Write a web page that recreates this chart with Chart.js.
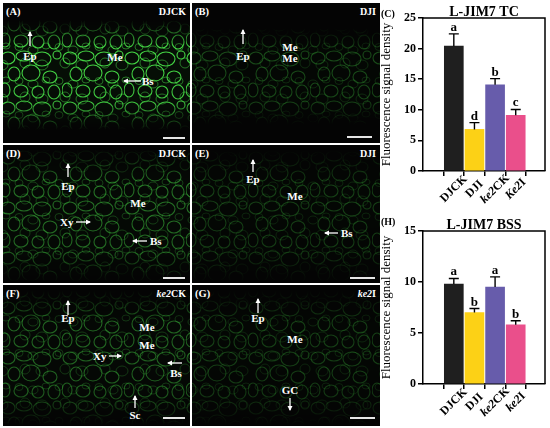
<!DOCTYPE html>
<html><head><meta charset="utf-8">
<script src="https://cdn.jsdelivr.net/npm/chart.js@4"></script>
<style>
html,body{margin:0;padding:0;background:#fff;width:550px;height:428px;overflow:hidden}
#c1wrap{position:absolute;left:370px;top:0;width:180px;height:214px}
#c2wrap{position:absolute;left:370px;top:214px;width:180px;height:214px}
#micro{position:absolute;left:0;top:0}
#micro text{font-family:'Liberation Serif','DejaVu Serif',serif;font-weight:bold;fill:#fff}
</style></head><body>
<svg id="micro" width="382" height="428" xmlns="http://www.w3.org/2000/svg">
<defs>
 <pattern id="cells" patternUnits="userSpaceOnUse" width="62" height="50">
  <g fill="none" stroke="#44d844" stroke-width="1.1">
   <ellipse cx="8" cy="8" rx="7" ry="6"/><ellipse cx="24" cy="6" rx="8" ry="5"/>
   <ellipse cx="42" cy="9" rx="9" ry="7"/><ellipse cx="57" cy="5" rx="4" ry="4"/>
   <ellipse cx="14" cy="24" rx="6" ry="7"/><ellipse cx="31" cy="23" rx="9" ry="8"/>
   <ellipse cx="50" cy="27" rx="7" ry="6"/><ellipse cx="5" cy="40" rx="5" ry="7"/>
   <ellipse cx="21" cy="41" rx="7" ry="6"/><ellipse cx="38" cy="42" rx="6" ry="6"/>
   <ellipse cx="54" cy="42" rx="6" ry="7"/>
  </g>
 </pattern>
 <pattern id="cells2" patternUnits="userSpaceOnUse" width="40" height="34" x="13" y="7">
  <g fill="none" stroke="#44d844" stroke-width="0.9">
   <ellipse cx="6" cy="6" rx="4" ry="3.5"/><ellipse cx="20" cy="9" rx="5" ry="4"/>
   <ellipse cx="33" cy="5" rx="4" ry="3"/><ellipse cx="12" cy="22" rx="5" ry="5"/>
   <ellipse cx="29" cy="24" rx="6" ry="5"/>
  </g>
 </pattern>
 <linearGradient id="fade" x1="0" y1="0" x2="0" y2="1">
  <stop offset="0" stop-color="#fff" stop-opacity="0"/>
  <stop offset="0.25" stop-color="#fff" stop-opacity="1"/>
  <stop offset="0.75" stop-color="#fff" stop-opacity="0.9"/>
  <stop offset="1" stop-color="#fff" stop-opacity="0"/>
 </linearGradient>
 <marker id="ah" viewBox="0 0 10 10" refX="8" refY="5" markerWidth="4" markerHeight="4" orient="auto-start-reverse">
  <path d="M0,0 L10,5 L0,10 z" fill="#fff"/>
 </marker>
</defs>
<g id="panels"></g>
</svg>
<div id="c1wrap"><canvas id="c1"></canvas></div>
<div id="c2wrap"><canvas id="c2"></canvas></div>
<script>
// ---------- data ----------
const categoriesTC = ['DJCK', 'DJI', 'ke2CK', 'Ke2I'];
const valuesTC = [20.4, 6.8, 14.1, 9.1];
const errorsTC = [2.0, 1.1, 1.0, 0.95];
const lettersTC = ['a', 'd', 'b', 'c'];
const yTicksTC = [0, 5, 10, 15, 20, 25];

const categoriesBSS = ['DJCK', 'DJI', 'ke2CK', 'ke2I'];
const valuesBSS = [9.8, 7.0, 9.5, 5.8];
const errorsBSS = [0.55, 0.4, 1.0, 0.4];
const lettersBSS = ['a', 'b', 'a', 'b'];
const yTicksBSS = [0, 5, 10, 15];

const barColors = ['#1f1f1f', '#fcd116', '#675cab', '#ea4f8b'];

// ---------- microscopy panels (layout) ----------
const SERIF = "'Liberation Serif','DejaVu Serif',serif";
const panels = [
 {x:3,y:3,w:187,h:140,band:[20,130],op:1.0,label:'(A)',name:[['DJCK',0]],
  items:[['up',30,46,32],['t','Ep',30,60,'middle'],['t','Me',115,61,'middle'],['left',141,124,81],['t','Bs',142,85,'start'],['bar',163,185,138]]},
 {x:192,y:3,w:188,h:140,band:[28,125],op:0.32,label:'(B)',name:[['DJI',0]],
  items:[['up',243,44,30],['t','Ep',243,60,'middle'],['t','Me',290,51,'middle'],['t','Me',290,62,'middle'],['bar',347,372,137]]},
 {x:3,y:145,w:187,h:138,band:[148,282],op:0.5,label:'(D)',name:[['DJCK',0]],
  items:[['up',68,177,164],['t','Ep',68,190,'middle'],['t','Me',138,207,'middle'],['t','Xy',60,226,'start'],['right',76,90,222],['left',147,133,241],['t','Bs',150,245,'start'],['bar',163,185,278]]},
 {x:192,y:145,w:188,h:138,band:[150,282],op:0.27,label:'(E)',name:[['DJI',0]],
  items:[['up',253,172,160],['t','Ep',253,183,'middle'],['t','Me',295,200,'middle'],['left',338,325,233],['t','Bs',341,237,'start'],['bar',350,375,278]]},
 {x:3,y:285,w:187,h:141,band:[290,426],op:0.45,label:'(F)',name:[['ke2',1],['CK',0]],
  items:[['up',68,315,301],['t','Ep',68,322,'middle'],['t','Me',147,331,'middle'],['t','Me',147,349,'middle'],['t','Xy',93,360,'start'],['right',109,121,356],['left',182,168,363],['t','Bs',176,377,'middle'],['up',135,408,396],['t','Sc',135,419,'middle'],['bar',163,185,418]]},
 {x:192,y:285,w:188,h:141,band:[290,426],op:0.27,label:'(G)',name:[['ke2',1],['I',0]],
  items:[['up',258,313,299],['t','Ep',258,322,'middle'],['t','Me',295,343,'middle'],['t','GC',290,394,'middle'],['down',290,398,410],['bar',350,375,418]]}
];
(function buildPanels(){
  const g = document.getElementById('panels');
  const defs = document.querySelector('#micro defs');
  let html = '', dh = '';
  panels.forEach((p, k) => {
    dh += `<mask id="m${k}"><rect x="${p.x}" y="${p.band[0]}" width="${p.w}" height="${p.band[1]-p.band[0]}" fill="url(#fade)"/></mask>`;
    html += `<rect x="${p.x}" y="${p.y}" width="${p.w}" height="${p.h}" fill="#040404"/>`;
    html += `<rect x="${p.x}" y="${p.y}" width="${p.w}" height="${p.h}" fill="#1f6b1f" opacity="${p.op*0.1}" mask="url(#m${k})"/>`;
    html += `<rect x="${p.x}" y="${p.y}" width="${p.w}" height="${p.h}" fill="url(#cells)" opacity="${p.op}" mask="url(#m${k})"/>`;
    html += `<rect x="${p.x}" y="${p.y}" width="${p.w}" height="${p.h}" fill="url(#cells2)" opacity="${p.op*0.6}" mask="url(#m${k})"/>`;
    html += `<text x="${p.x+3}" y="${p.y+12}" font-size="10.5">${p.label}</text>`;
    html += `<text x="${p.x+p.w-4}" y="${p.y+12}" font-size="10" text-anchor="end">` +
      p.name.map(r => `<tspan font-style="${r[1]?'italic':'normal'}">${r[0]}</tspan>`).join('') + `</text>`;
    p.items.forEach(it => {
      const ln = (x1,y1,x2,y2) => `<line x1="${x1}" y1="${y1}" x2="${x2}" y2="${y2}" stroke="#fff" stroke-width="1.3" marker-end="url(#ah)"/>`;
      if (it[0]==='t') html += `<text x="${it[2]}" y="${it[3]}" font-size="11" text-anchor="${it[4]}">${it[1]}</text>`;
      else if (it[0]==='up' || it[0]==='down') html += ln(it[1],it[2],it[1],it[3]);
      else if (it[0]==='left' || it[0]==='right') html += ln(it[1],it[3],it[2],it[3]);
      else if (it[0]==='bar') html += `<line x1="${it[1]}" y1="${it[3]}" x2="${it[2]}" y2="${it[3]}" stroke="#fff" stroke-width="1.8"/>`;
    });
  });
  defs.insertAdjacentHTML('beforeend', dh);
  g.innerHTML = html;
})();

// ---------- charts ----------
function labelRuns(name){
  const m = name.match(/^([kK]e2)(.*)$/);
  return m ? [[m[1], true], [m[2], false]] : [[name, false]];
}

const extrasPlugin = {
  id: 'extras',
  afterDatasetsDraw(chart, args, opts) {
    const {ctx, chartArea: ca, scales: {x, y}} = chart;
    ctx.save();
    ctx.strokeStyle = '#000'; ctx.lineWidth = 1.5;
    ctx.beginPath();
    ctx.moveTo(ca.left, ca.top); ctx.lineTo(ca.right, ca.top); ctx.lineTo(ca.right, ca.bottom);
    ctx.stroke();
    opts.values.forEach((v, i) => {
      const px = x.getPixelForValue(i);
      const y0 = y.getPixelForValue(v);
      const y1 = y.getPixelForValue(v + opts.errors[i]);
      ctx.lineWidth = 1.4;
      ctx.beginPath();
      ctx.moveTo(px, y0); ctx.lineTo(px, y1);
      ctx.moveTo(px - 5, y1); ctx.lineTo(px + 5, y1);
      ctx.stroke();
      ctx.fillStyle = '#000';
      ctx.font = `bold 13px ${SERIF}`;
      ctx.textAlign = 'center'; ctx.textBaseline = 'alphabetic';
      ctx.fillText(opts.letters[i], px, y1 - 3);
    });
    opts.categories.forEach((c, i) => {
      const px = x.getPixelForValue(i);
      const runs = labelRuns(c);
      const fontOf = it => `${it ? 'italic ' : ''}bold 12px ${SERIF}`;
      let total = 0;
      runs.forEach(r => { ctx.font = fontOf(r[1]); total += ctx.measureText(r[0]).width; });
      ctx.save();
      ctx.translate(px, ca.bottom + 18);
      ctx.rotate(-Math.PI / 4);
      ctx.textAlign = 'left'; ctx.textBaseline = 'middle'; ctx.fillStyle = '#000';
      let cx = -total / 2;
      runs.forEach(r => { ctx.font = fontOf(r[1]); ctx.fillText(r[0], cx, 0); cx += ctx.measureText(r[0]).width; });
      ctx.restore();
    });
    ctx.font = `bold 10px ${SERIF}`;
    ctx.textAlign = 'left'; ctx.textBaseline = 'middle'; ctx.fillStyle = '#000';
    ctx.fillText(opts.panel, 11, opts.panelY);
    ctx.restore();
  }
};

function makeChart(id, cats, vals, errs, letters, yTicks, title, panel, panelY, titlePadTop, xHeight) {
  const yMax = yTicks[yTicks.length - 1];
  return new Chart(document.getElementById(id), {
    type: 'bar',
    data: {
      datasets: [{
        data: cats.map((c, i) => ({x: i, y: vals[i]})),
        backgroundColor: barColors,
        borderWidth: 0,
        barThickness: 19
      }]
    },
    options: {
      responsive: true, maintainAspectRatio: false, animation: false,
      layout: {padding: {left: 0, right: 5, top: 0, bottom: 0}},
      plugins: {
        legend: {display: false}, tooltip: {enabled: false},
        title: {display: true, text: title, fullSize: false, color: '#000',
          font: {family: SERIF, size: 14, weight: 'bold', lineHeight: '12px'},
          padding: {top: titlePadTop, bottom: 0}},
        extras: {values: vals, errors: errs, letters: letters, categories: cats, panel: panel, panelY: panelY}
      },
      scales: {
        x: {
          type: 'linear', min: -0.7545, max: 3.68,
          afterBuildTicks: s => { s.ticks = cats.map((c, i) => ({value: i})); },
          afterFit: s => { s.height = xHeight; },
          grid: {display: true, drawOnChartArea: false, drawTicks: true, tickLength: 5, color: '#000', lineWidth: 1.5},
          border: {display: true, color: '#000', width: 1.5},
          ticks: {display: false}
        },
        y: {
          min: 0, max: yMax,
          afterBuildTicks: s => { s.ticks = yTicks.map(v => ({value: v})); },
          afterFit: s => { s.width = 53; },
          grid: {display: true, drawOnChartArea: false, drawTicks: true, tickLength: 5, color: '#000', lineWidth: 1.5},
          border: {display: true, color: '#000', width: 1.5},
          ticks: {color: '#000', padding: 2, font: {family: SERIF, size: 12, weight: 'bold'}},
          title: {display: true, text: 'Fluorescence signal density', color: '#000',
            font: {family: SERIF, size: 13, weight: 'normal'}, padding: {top: 9, bottom: 0}}
        }
      }
    },
    plugins: [extrasPlugin]
  });
}

makeChart('c1', categoriesTC, valuesTC, errorsTC, lettersTC, yTicksTC, 'L-JIM7 TC', '(C)', 14, 6, 43);
makeChart('c2', categoriesBSS, valuesBSS, errorsBSS, lettersBSS, yTicksBSS, 'L-JIM7 BSS', '(H)', 8, 5, 44);
</script>
</body></html>
